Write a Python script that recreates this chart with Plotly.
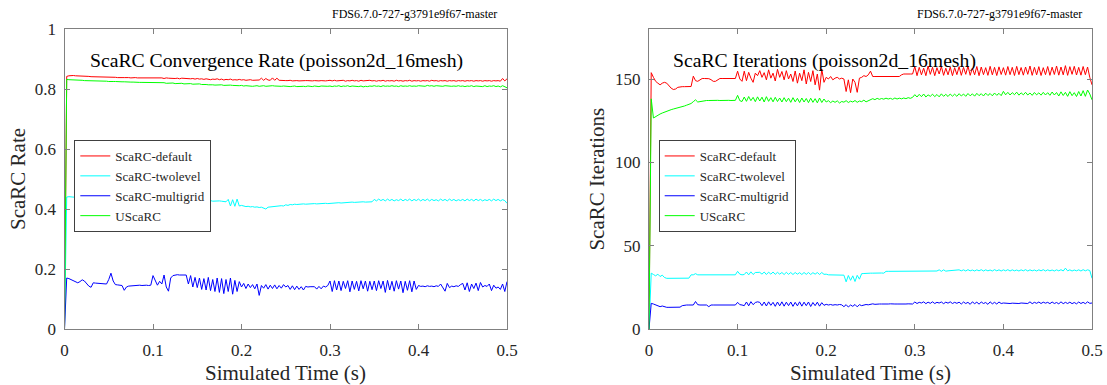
import numpy as np
import plotly.graph_objects as go

# ---------------- data ----------------
# sample times of the recorded quantities (s), 0.0025 s spacing, 0 .. 0.5
time_s = np.linspace(0.0, 0.5, 201)

series_names = ["ScaRC-default", "ScaRC-twolevel", "ScaRC-multigrid", "UScaRC"]

rate_default = [
    0.000, 0.842, 0.844, 0.845, 0.845, 0.844, 0.844, 0.843, 0.843, 0.842, 0.842, 0.842, 0.841, 0.841, 0.841, 0.840, 0.840, 0.840, 0.840, 0.839,
    0.839, 0.840, 0.839, 0.839, 0.838, 0.839, 0.838, 0.838, 0.839, 0.838, 0.837, 0.838, 0.838, 0.837, 0.837, 0.838, 0.837, 0.836, 0.837, 0.837,
    0.838, 0.836, 0.837, 0.836, 0.837, 0.835, 0.837, 0.836, 0.835, 0.836, 0.835, 0.836, 0.834, 0.836, 0.835, 0.834, 0.835, 0.834, 0.835, 0.833,
    0.835, 0.833, 0.834, 0.832, 0.834, 0.833, 0.831, 0.833, 0.832, 0.834, 0.831, 0.833, 0.830, 0.832, 0.831, 0.833, 0.830, 0.831, 0.830, 0.832,
    0.830, 0.831, 0.829, 0.830, 0.831, 0.829, 0.830, 0.829, 0.830, 0.836, 0.829, 0.835, 0.830, 0.829, 0.837, 0.829, 0.836, 0.829, 0.828, 0.829,
    0.828, 0.828, 0.829, 0.827, 0.828, 0.828, 0.827, 0.828, 0.827, 0.828, 0.828, 0.827, 0.827, 0.828, 0.827, 0.827, 0.828, 0.827, 0.827, 0.828,
    0.829, 0.827, 0.829, 0.827, 0.828, 0.827, 0.829, 0.826, 0.828, 0.827, 0.829, 0.827, 0.828, 0.826, 0.829, 0.827, 0.828, 0.827, 0.829, 0.827,
    0.828, 0.826, 0.828, 0.827, 0.829, 0.826, 0.828, 0.827, 0.828, 0.826, 0.829, 0.827, 0.828, 0.826, 0.828, 0.827, 0.829, 0.826, 0.828, 0.827,
    0.828, 0.826, 0.828, 0.827, 0.828, 0.826, 0.829, 0.827, 0.828, 0.826, 0.828, 0.827, 0.828, 0.826, 0.828, 0.827, 0.828, 0.826, 0.828, 0.827,
    0.828, 0.826, 0.828, 0.827, 0.828, 0.826, 0.828, 0.827, 0.828, 0.826, 0.828, 0.827, 0.828, 0.826, 0.828, 0.827, 0.828, 0.826, 0.835, 0.827,
    0.834,
]

rate_twolevel = [
    0.000, 0.440, 0.441, 0.440, 0.439, 0.438, 0.438, 0.437, 0.437, 0.437, 0.436, 0.436, 0.436, 0.435, 0.435, 0.435, 0.435, 0.434, 0.434, 0.434,
    0.434, 0.433, 0.433, 0.433, 0.434, 0.433, 0.432, 0.433, 0.432, 0.432, 0.433, 0.432, 0.431, 0.432, 0.431, 0.431, 0.432, 0.431, 0.430, 0.431,
    0.432, 0.428, 0.434, 0.427, 0.433, 0.428, 0.432, 0.429, 0.431, 0.428, 0.430, 0.429, 0.431, 0.428, 0.430, 0.429, 0.430, 0.428, 0.429, 0.428,
    0.429, 0.428, 0.429, 0.427, 0.428, 0.427, 0.428, 0.426, 0.427, 0.426, 0.427, 0.426, 0.425, 0.424, 0.432, 0.410, 0.431, 0.409, 0.433, 0.410,
    0.412, 0.410, 0.408, 0.409, 0.407, 0.408, 0.406, 0.407, 0.405, 0.406, 0.404, 0.400, 0.406, 0.407, 0.408, 0.409, 0.410, 0.409, 0.411, 0.410,
    0.414, 0.412, 0.415, 0.414, 0.416, 0.415, 0.416, 0.415, 0.417, 0.416, 0.417, 0.416, 0.417, 0.418, 0.417, 0.418, 0.419, 0.418, 0.419, 0.418,
    0.419, 0.420, 0.419, 0.420, 0.421, 0.420, 0.421, 0.422, 0.421, 0.422, 0.423, 0.422, 0.423, 0.424, 0.423, 0.424, 0.423, 0.424, 0.425, 0.424,
    0.432, 0.427, 0.433, 0.428, 0.432, 0.427, 0.433, 0.428, 0.432, 0.427, 0.431, 0.428, 0.433, 0.427, 0.432, 0.428, 0.433, 0.427, 0.432, 0.428,
    0.433, 0.427, 0.432, 0.428, 0.433, 0.427, 0.432, 0.428, 0.431, 0.427, 0.433, 0.428, 0.432, 0.427, 0.433, 0.428, 0.432, 0.427, 0.431, 0.428,
    0.432, 0.427, 0.433, 0.428, 0.432, 0.427, 0.433, 0.428, 0.432, 0.427, 0.431, 0.428, 0.432, 0.427, 0.433, 0.428, 0.432, 0.427, 0.431, 0.428,
    0.419,
]

rate_multigrid = [
    0.000, 0.170, 0.168, 0.164, 0.160, 0.158, 0.154, 0.158, 0.164, 0.160, 0.150, 0.143, 0.139, 0.154, 0.153, 0.152, 0.151, 0.151, 0.150, 0.150,
    0.165, 0.186, 0.160, 0.148, 0.147, 0.146, 0.145, 0.129, 0.140, 0.143, 0.144, 0.144, 0.145, 0.145, 0.146, 0.145, 0.146, 0.146, 0.145, 0.146,
    0.178, 0.160, 0.146, 0.159, 0.150, 0.180, 0.140, 0.126, 0.170, 0.178, 0.180, 0.181, 0.180, 0.181, 0.180, 0.180, 0.150, 0.178, 0.140, 0.172,
    0.138, 0.170, 0.132, 0.168, 0.130, 0.172, 0.128, 0.165, 0.125, 0.170, 0.122, 0.168, 0.118, 0.165, 0.125, 0.170, 0.116, 0.162, 0.125, 0.158,
    0.140, 0.152, 0.135, 0.150, 0.138, 0.148, 0.134, 0.150, 0.112, 0.145, 0.136, 0.148, 0.133, 0.146, 0.135, 0.147, 0.134, 0.145, 0.136, 0.148,
    0.140, 0.145, 0.132, 0.144, 0.131, 0.143, 0.132, 0.141, 0.130, 0.142, 0.140, 0.141, 0.140, 0.141, 0.133, 0.142, 0.134, 0.143, 0.140, 0.145,
    0.160, 0.125, 0.161, 0.130, 0.160, 0.128, 0.159, 0.135, 0.161, 0.124, 0.160, 0.132, 0.159, 0.127, 0.161, 0.134, 0.160, 0.126, 0.159, 0.131,
    0.160, 0.128, 0.161, 0.135, 0.160, 0.122, 0.162, 0.130, 0.159, 0.126, 0.161, 0.133, 0.160, 0.121, 0.159, 0.129, 0.161, 0.124, 0.160, 0.132,
    0.145, 0.142, 0.143, 0.141, 0.144, 0.142, 0.143, 0.141, 0.144, 0.142, 0.150, 0.140, 0.126, 0.152, 0.138, 0.143, 0.141, 0.144, 0.142, 0.148,
    0.152, 0.130, 0.154, 0.125, 0.150, 0.135, 0.153, 0.128, 0.155, 0.140, 0.145, 0.142, 0.150, 0.128, 0.146, 0.136, 0.140, 0.132, 0.150, 0.125,
    0.158,
]

rate_uscarc = [
    0.000, 0.832, 0.831, 0.831, 0.830, 0.830, 0.829, 0.829, 0.829, 0.828, 0.828, 0.828, 0.827, 0.827, 0.827, 0.827, 0.826, 0.826, 0.826, 0.826,
    0.825, 0.826, 0.825, 0.825, 0.824, 0.825, 0.824, 0.824, 0.823, 0.824, 0.823, 0.823, 0.822, 0.823, 0.822, 0.822, 0.822, 0.821, 0.822, 0.821,
    0.821, 0.822, 0.820, 0.821, 0.820, 0.821, 0.819, 0.820, 0.819, 0.820, 0.818, 0.819, 0.818, 0.819, 0.817, 0.818, 0.817, 0.818, 0.816, 0.817,
    0.816, 0.817, 0.815, 0.816, 0.815, 0.814, 0.815, 0.814, 0.813, 0.814, 0.813, 0.814, 0.812, 0.813, 0.812, 0.813, 0.812, 0.811, 0.812, 0.811,
    0.812, 0.810, 0.811, 0.810, 0.811, 0.809, 0.810, 0.811, 0.809, 0.810, 0.811, 0.809, 0.810, 0.809, 0.811, 0.810, 0.809, 0.810, 0.809, 0.810,
    0.809, 0.810, 0.808, 0.809, 0.810, 0.808, 0.809, 0.810, 0.809, 0.808, 0.810, 0.809, 0.808, 0.810, 0.809, 0.808, 0.810, 0.809, 0.810, 0.809,
    0.810, 0.808, 0.810, 0.809, 0.811, 0.808, 0.810, 0.809, 0.811, 0.808, 0.810, 0.809, 0.810, 0.808, 0.810, 0.807, 0.809, 0.808, 0.810, 0.809,
    0.811, 0.809, 0.810, 0.808, 0.811, 0.809, 0.810, 0.809, 0.811, 0.809, 0.810, 0.808, 0.811, 0.809, 0.810, 0.809, 0.811, 0.809, 0.810, 0.809,
    0.811, 0.810, 0.811, 0.809, 0.812, 0.810, 0.811, 0.809, 0.811, 0.810, 0.811, 0.809, 0.811, 0.810, 0.811, 0.809, 0.810, 0.809, 0.811, 0.809,
    0.810, 0.808, 0.810, 0.809, 0.811, 0.808, 0.810, 0.809, 0.810, 0.808, 0.811, 0.808, 0.810, 0.809, 0.811, 0.808, 0.810, 0.807, 0.811, 0.806,
    0.804,
]

iter_default = [
    0.0, 153.8, 151.0, 148.6, 147.5, 146.5, 147.5, 148.0, 147.5, 146.0, 144.5, 143.7, 144.0, 145.0, 145.4, 145.4, 145.4, 145.4, 145.6, 145.5,
    151.7, 149.0, 148.6, 149.5, 150.3, 150.3, 150.3, 150.2, 149.6, 148.6, 148.6, 149.5, 150.3, 150.3, 150.3, 150.2, 150.3, 150.3, 150.4, 150.3,
    154.7, 150.0, 148.6, 154.7, 149.0, 154.0, 150.5, 148.0, 153.5, 152.0, 155.0, 151.0, 153.8, 149.5, 155.5, 150.5, 153.5, 148.8, 155.8, 151.0,
    154.5, 149.5, 155.0, 150.0, 153.0, 148.5, 154.8, 147.5, 153.5, 149.0, 155.5, 147.0, 154.0, 148.5, 155.0, 146.5, 153.0, 143.3, 156.0, 148.0,
    151.0, 150.0, 151.5, 149.5, 150.5, 151.0, 150.0, 150.5, 150.0, 142.5, 149.5, 141.8, 150.0, 148.0, 142.0, 150.5, 151.0, 152.0, 151.5, 152.5,
    154.7, 151.5, 151.5, 151.5, 151.6, 151.5, 151.5, 151.4, 151.5, 151.5, 151.6, 151.5, 151.5, 151.5, 152.5, 153.0, 153.0, 153.2, 153.0, 153.0,
    157.5, 152.0, 157.0, 152.5, 156.5, 152.0, 157.8, 152.8, 157.0, 152.0, 156.8, 153.0, 157.5, 152.2, 156.5, 152.5, 157.2, 152.0, 156.8, 152.6,
    157.4, 152.2, 157.0, 152.8, 157.8, 152.2, 156.6, 152.5, 157.5, 152.0, 157.2, 152.6, 156.8, 152.2, 157.6, 152.5, 157.0, 152.1, 157.3, 152.7,
    156.8, 152.3, 157.5, 152.6, 157.0, 152.1, 157.6, 152.6, 156.9, 152.3, 157.2, 152.8, 157.8, 152.2, 157.0, 152.5, 157.4, 152.1, 156.8, 152.6,
    157.5, 152.2, 157.1, 152.7, 157.8, 152.3, 157.2, 152.5, 158.0, 152.2, 157.4, 152.8, 157.6, 152.4, 157.0, 152.3, 157.5, 152.6, 157.2, 151.0,
    146.5,
]

iter_twolevel = [
    0.0, 33.5, 32.7, 31.9, 32.9, 31.5, 32.3, 30.9, 30.4, 30.4, 30.5, 30.3, 30.4, 30.4, 30.4, 30.5, 30.4, 30.4, 30.5, 32.5,
    32.5, 33.2, 32.5, 32.5, 32.5, 32.6, 32.5, 32.5, 32.5, 32.5, 32.5, 32.6, 32.5, 32.5, 32.5, 32.5, 32.5, 32.6, 32.5, 32.5,
    34.6, 32.9, 32.5, 32.7, 34.2, 32.5, 34.3, 32.7, 33.9, 34.1, 34.0, 32.9, 34.2, 32.7, 34.1, 32.9, 34.2, 32.8, 34.0, 32.9,
    33.9, 32.7, 34.0, 32.8, 33.9, 32.7, 33.9, 32.9, 33.8, 32.7, 33.9, 32.8, 33.9, 32.7, 33.8, 32.9, 33.9, 32.7, 33.9, 32.8,
    32.9, 32.5, 32.5, 32.4, 32.5, 32.5, 32.4, 32.5, 32.3, 28.3, 32.1, 29.2, 31.9, 28.5, 32.2, 29.9, 33.2, 33.3, 33.5, 33.5,
    33.5, 33.5, 33.6, 33.5, 33.5, 33.6, 33.5, 34.6, 34.6, 34.6, 34.6, 34.6, 34.7, 34.6, 34.6, 34.6, 34.7, 34.6, 34.6, 34.6,
    34.7, 34.6, 34.7, 34.6, 34.7, 34.7, 34.8, 34.7, 34.8, 34.8, 34.8, 35.5, 34.6, 35.5, 34.7, 34.9, 35.0, 34.9, 35.0, 35.0,
    35.5, 34.9, 35.5, 34.8, 35.6, 34.9, 35.4, 34.8, 35.5, 34.9, 35.6, 34.8, 35.5, 34.9, 35.4, 34.8, 35.6, 34.9, 35.5, 34.8,
    35.5, 34.9, 35.6, 34.8, 35.5, 34.9, 35.4, 34.8, 35.5, 34.9, 35.6, 34.8, 35.5, 34.9, 35.4, 34.8, 35.5, 34.9, 35.6, 34.8,
    35.5, 34.9, 35.4, 34.8, 35.5, 34.9, 35.6, 34.8, 36.5, 34.9, 35.5, 34.8, 35.4, 34.9, 35.5, 34.8, 35.6, 34.9, 35.5, 35.1,
    30.4,
]

iter_multigrid = [
    0.0, 15.4, 15.0, 14.4, 13.9, 13.4, 13.8, 13.2, 13.0, 13.0, 13.0, 13.1, 13.0, 13.0, 13.1, 14.0, 14.4, 14.4, 14.4, 14.4,
    14.4, 16.5, 14.6, 14.4, 14.4, 14.4, 14.4, 13.4, 14.4, 14.4, 14.4, 14.4, 14.4, 14.5, 14.4, 14.4, 14.4, 14.5, 14.4, 14.4,
    16.0, 14.6, 14.4, 14.0, 16.2, 13.9, 16.4, 14.6, 15.9, 16.3, 16.0, 14.0, 16.2, 13.8, 16.3, 14.2, 16.0, 13.6, 16.2, 13.9,
    16.3, 13.7, 16.1, 14.0, 16.2, 13.6, 16.0, 13.9, 16.3, 13.7, 16.1, 14.0, 16.2, 13.5, 15.9, 14.0, 16.1, 13.7, 15.8, 14.2,
    14.8, 14.4, 14.7, 14.3, 14.6, 14.4, 14.7, 14.5, 13.4, 14.6, 13.2, 14.4, 13.6, 14.7, 13.3, 14.6, 14.0, 14.5, 14.7, 14.5,
    15.0, 15.1, 14.8, 15.1, 15.0, 15.0, 14.9, 15.0, 15.0, 15.1, 14.9, 15.0, 15.0, 14.9, 15.1, 15.0, 15.0, 15.1, 15.0, 15.0,
    16.2, 15.3, 16.0, 15.6, 16.3, 15.2, 16.1, 15.4, 16.3, 15.3, 16.0, 15.6, 16.2, 15.2, 16.1, 15.5, 16.3, 15.3, 16.0, 15.4,
    16.1, 15.0, 16.2, 15.3, 16.0, 14.8, 16.3, 15.2, 16.1, 14.9, 16.2, 15.3, 15.9, 14.8, 16.3, 15.1, 16.0, 15.0, 16.2, 15.3,
    15.6, 15.4, 15.6, 15.3, 15.5, 15.4, 15.7, 15.3, 15.6, 15.4, 15.5, 15.3, 16.3, 15.2, 16.0, 15.4, 16.2, 15.3, 16.1, 15.5,
    16.0, 15.2, 16.2, 15.3, 15.9, 15.1, 16.3, 15.2, 16.0, 15.3, 16.1, 15.2, 15.9, 15.1, 16.2, 15.3, 16.0, 15.2, 16.3, 15.4,
    15.6,
]

iter_uscarc = [
    0.0, 138.1, 126.6, 127.5, 128.3, 129.0, 129.6, 130.2, 130.8, 131.2, 131.6, 132.0, 132.3, 132.6, 133.0, 133.3, 133.8, 134.3, 134.8, 135.3,
    136.4, 137.5, 136.2, 136.5, 136.8, 137.0, 137.1, 137.1, 137.2, 137.1, 137.1, 137.2, 137.1, 137.2, 137.1, 137.1, 137.2, 137.1, 137.1, 137.2,
    140.2, 137.0, 136.5, 139.2, 136.6, 139.5, 137.0, 139.0, 136.4, 139.3, 136.8, 139.1, 136.2, 139.4, 136.6, 138.8, 136.3, 139.0, 136.5, 138.6,
    136.2, 138.8, 136.4, 138.5, 136.0, 138.8, 136.3, 138.4, 135.9, 138.6, 136.2, 138.3, 135.8, 138.5, 136.0, 138.2, 135.7, 138.6, 135.9, 138.0,
    136.2, 137.0, 135.8, 136.8, 136.0, 136.9, 135.6, 136.5, 136.1, 137.0, 135.9, 136.7, 136.2, 137.1, 136.0, 136.8, 136.4, 137.3, 136.3, 137.0,
    137.5, 138.2, 137.6, 138.4, 137.8, 138.3, 137.9, 138.5, 138.0, 138.4, 137.8, 138.6, 138.0, 138.5, 138.1, 138.6, 138.2, 138.8, 138.4, 139.0,
    140.6, 139.2, 140.8, 139.4, 141.0, 139.2, 140.5, 139.6, 140.9, 139.4, 140.7, 139.3, 141.1, 139.6, 140.8, 139.5, 141.0, 139.7, 140.9, 139.6,
    141.2, 139.8, 141.0, 139.6, 141.3, 139.9, 141.1, 139.7, 141.4, 140.0, 141.2, 139.8, 141.5, 140.1, 141.3, 139.9, 141.6, 140.2, 141.4, 140.0,
    142.6, 140.5, 142.0, 140.4, 141.8, 140.6, 142.1, 140.3, 141.7, 140.5, 142.0, 140.4, 141.6, 140.2, 141.9, 140.5, 141.7, 140.3, 142.0, 140.4,
    141.8, 140.2, 142.2, 140.4, 141.9, 139.8, 142.3, 140.1, 142.0, 139.6, 142.4, 140.0, 141.8, 139.5, 142.5, 139.8, 143.0, 139.6, 143.4, 141.0,
    137.5,
]

x_ticks = [0, 0.1, 0.2, 0.3, 0.4, 0.5]
rate_ticks = [0, 0.2, 0.4, 0.6, 0.8, 1]
iter_ticks = [0, 50, 100, 150]

for arr in (rate_default, rate_twolevel, rate_multigrid, rate_uscarc,
            iter_default, iter_twolevel, iter_multigrid, iter_uscarc):
    assert len(arr) == len(time_s), len(arr)

# ---------------- styling ----------------
W, H = 1107, 385
FONT = "Liberation Serif"
colors = ["#ff0000", "#00ffff", "#0000ff", "#00ff00"]
FRAME = "#808080"
TXT = "#262626"

# panel pixel boxes
L_X0, L_X1 = 64.5, 507.0
R_X0, R_X1 = 649.0, 1092.0
Y_TOP, Y_BOT = 29.0, 329.0

def px(x):
    return x / W

def py(y):
    return 1 - y / H

fig = go.Figure()

rate_series = [rate_default, rate_twolevel, rate_multigrid, rate_uscarc]
iter_series = [iter_default, iter_twolevel, iter_multigrid, iter_uscarc]

for name, vals, col in zip(series_names, rate_series, colors):
    fig.add_trace(go.Scatter(x=time_s, y=vals, mode="lines", name=name,
                             line=dict(color=col, width=1),
                             xaxis="x", yaxis="y", legend="legend"))
for name, vals, col in zip(series_names, iter_series, colors):
    fig.add_trace(go.Scatter(x=time_s, y=vals, mode="lines", name=name,
                             line=dict(color=col, width=1),
                             xaxis="x2", yaxis="y2", legend="legend2"))

axis_common = dict(
    showgrid=False, zeroline=False, showline=True, linecolor=FRAME, linewidth=1,
    mirror="ticks", ticks="inside", ticklen=5, tickcolor=FRAME, tickwidth=1,
    tickfont=dict(family=FONT, size=17, color=TXT), automargin=False,
)

legend_common = dict(
    bgcolor="white", bordercolor="#404040", borderwidth=1,
    font=dict(family=FONT, size=13, color=TXT),
    xanchor="left", yanchor="top", itemwidth=30, tracegroupgap=0,
)

fig.update_layout(
    width=W, height=H, autosize=False,
    margin=dict(l=0, r=0, t=0, b=0, pad=0, autoexpand=False),
    paper_bgcolor="white", plot_bgcolor="white",
    showlegend=True,
    xaxis=dict(domain=[px(L_X0), px(L_X1)], range=[0, 0.5], tickvals=x_ticks,
               anchor="y", ticklabelstandoff=6, **axis_common),
    yaxis=dict(domain=[py(Y_BOT), py(Y_TOP)], range=[0, 1], tickvals=rate_ticks,
               anchor="x", ticklabelstandoff=4, **axis_common),
    xaxis2=dict(domain=[px(R_X0), px(R_X1)], range=[0, 0.5], tickvals=x_ticks,
                anchor="y2", ticklabelstandoff=6, **axis_common),
    yaxis2=dict(domain=[py(Y_BOT), py(Y_TOP)], range=[0, 180], tickvals=iter_ticks,
                anchor="x2", ticklabelstandoff=4, **axis_common),
    legend=dict(x=px(74.3), y=py(140), **legend_common),
    legend2=dict(x=px(658.7), y=py(140), **legend_common),
)

def note(text, x, y, size, xanchor="center", angle=0, color="black"):
    fig.add_annotation(text=text, x=x, y=y, xref="paper", yref="paper",
                       xanchor=xanchor, yanchor="middle", showarrow=False,
                       textangle=angle,
                       font=dict(family=FONT, size=size, color=color))

# in-plot titles
note("ScaRC Convergence Rate (poisson2d_16mesh)", px(87.5), py(60), 19.7, xanchor="left")
note("ScaRC Iterations (poisson2d_16mesh)", px(671), py(61), 19.7, xanchor="left")
# version stamps
note("FDS6.7.0-727-g3791e9f67-master", px(499), py(14), 12, xanchor="right")
note("FDS6.7.0-727-g3791e9f67-master", px(1083.5), py(14), 12, xanchor="right")
# axis titles
note("Simulated Time (s)", px((L_X0 + L_X1) / 2), py(373), 21, color=TXT)
note("Simulated Time (s)", px((R_X0 + R_X1) / 2), py(373), 21, color=TXT)
note("ScaRC Rate", px(18), py((Y_TOP + Y_BOT) / 2), 21, angle=-90, color=TXT)
note("ScaRC Iterations", px(596.6), py((Y_TOP + Y_BOT) / 2), 21, angle=-90, color=TXT)

fig.write_html("out.html")
